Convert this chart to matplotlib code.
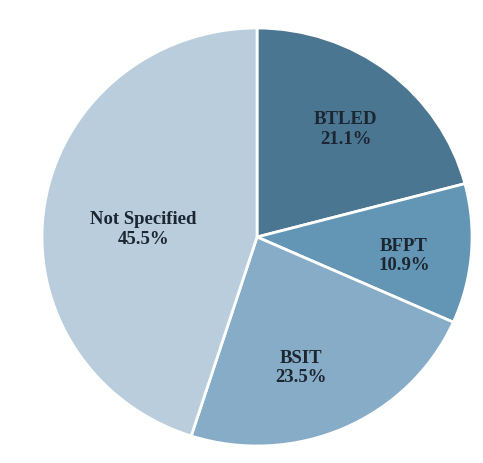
import numpy as np
import matplotlib
matplotlib.use('Agg')
import matplotlib.pyplot as plt

# program share of respondents
programs = ['BTLED', 'BFPT', 'BSIT', 'Not Specified']
shares = [21.1, 10.9, 23.5, 45.5]
colors = ['#4a7692', '#6395b4', '#87acc7', '#b9cddd']

# label placement: radius fraction and nudge from the slice mid-angle (deg)
label_dist = [0.66, 0.69, 0.66, 0.53]
label_nudge = [-1.0, -3.0, -6.0, 5.0]

fig = plt.figure(figsize=(4.83, 4.63), dpi=100)
ax = fig.add_axes([0.087, 0.0367, 0.8903, 0.9028])

wedges, _ = ax.pie(shares, colors=colors, startangle=90, counterclock=False,
                   radius=1.0, wedgeprops=dict(edgecolor='white', linewidth=2))

# put name + percent inside each slice
for w, name, val, d, nd in zip(wedges, programs, shares, label_dist, label_nudge):
    ang = np.deg2rad((w.theta1 + w.theta2) / 2 + nd)
    ax.text(d * np.cos(ang), d * np.sin(ang), '{}\n{:.1f}%'.format(name, val),
            ha='center', va='center', fontsize=13.5, fontweight='bold',
            family='Liberation Serif', color='#1c2631', linespacing=1.2)

ax.set_xlim(-1, 1)
ax.set_ylim(-1, 1)
ax.set_aspect('auto')
ax.axis('off')

fig.savefig('out.png', dpi=100)
